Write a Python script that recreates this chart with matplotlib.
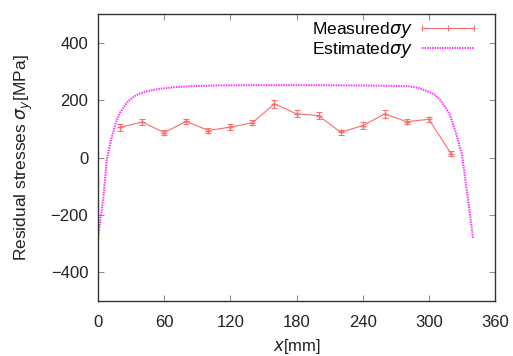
import numpy as np
import matplotlib
matplotlib.use("Agg")
from matplotlib import pyplot as plt
from matplotlib.lines import Line2D
from matplotlib.legend_handler import HandlerBase

# measured residual stress (every 20 mm)
meas_x = [20, 40, 60, 80, 100, 120, 140, 160, 180, 200, 220, 240, 260, 280, 300, 320]
meas_y = [105, 124, 87, 126, 94, 106, 121, 187, 152, 146, 88, 111, 152, 125, 133, 14]
meas_err = [12, 10, 8, 9, 9, 9, 8, 14, 12, 13, 9, 12, 13, 10, 8, 8]

# estimated curve
est_x = [0, 5, 8, 12, 16, 20, 25, 29, 35, 43, 50, 58, 70, 88, 110, 140, 170, 200, 230, 260,
         282, 290, 298, 305, 310, 315, 319, 325, 330, 335, 340]
est_y = [-280, -135, -7, 63, 120, 156, 185, 202, 218, 229, 235, 240, 245, 249, 251, 252, 252,
         252, 251, 250, 248, 243, 232, 220, 202, 175, 150, 80, 10, -130, -280]

red = '#ff6a6a'
mag = '#ff33ff'


# gnuplot style key entry for errorbars: horizontal line, caps at ends, + in middle
class HandlerMeas(HandlerBase):
    def create_artists(self, legend, orig, xd, yd, w, h, fs, trans):
        y = h / 2 - yd
        x0, x1 = -xd, -xd + w
        ln = Line2D([x0, x1], [y, y], color=red, lw=0.8, transform=trans)
        caps = Line2D([x0, x1], [y, y], ls='none', marker='|', ms=5, mew=0.8, color=red, transform=trans)
        plus = Line2D([(x0 + x1) / 2], [y], ls='none', marker='+', ms=4, mew=0.8, color=red, transform=trans)
        return [ln, caps, plus]


plt.rcParams['font.family'] = ['Liberation Sans', 'DejaVu Sans']
plt.rcParams['mathtext.fontset'] = 'dejavusans'

fig = plt.figure(figsize=(5.13, 3.56), dpi=100)
ax = fig.add_axes([0.191, 0.154, 0.774, 0.807])

est_line, = ax.plot(est_x, est_y, color=mag, lw=1.5, ls=(0, (0.7, 0.5)), zorder=2)
meas = ax.errorbar(meas_x, meas_y, yerr=meas_err, color=red, lw=0.8, marker='+', ms=4,
                   capsize=2.5, elinewidth=0.7, capthick=0.7, zorder=3)

ax.set_xlim(0, 360)
ax.set_ylim(-500, 500)
ax.set_xticks(np.arange(0, 361, 60))
ax.set_yticks([-400, -200, 0, 200, 400])
ax.tick_params(direction='in', top=True, right=True, length=4, width=0.6, color='#777777',
               labelsize=12, labelcolor='#222222')
ax.tick_params(axis='x', pad=10)
ax.tick_params(axis='y', pad=7)
for s in ax.spines.values():
    s.set_linewidth(1.0)
    s.set_color('#333333')

ax.set_xlabel('$x$[mm]', fontsize=12, labelpad=5, color='#222222')
ax.set_ylabel('Residual stresses $\\sigma_y$[MPa]', fontsize=12.5, labelpad=11, color='#222222')

ax.legend([meas, est_line], ['Measured$\\sigma y$', 'Estimated$\\sigma y$'],
          handler_map={type(meas): HandlerMeas()},
          loc='upper right', bbox_to_anchor=(0.955, 0.99), frameon=False, markerfirst=False,
          fontsize=12.5, handlelength=3.0, handletextpad=0.5, borderaxespad=0.0,
          labelspacing=0.0, borderpad=0.2)

plt.savefig('out.png', dpi=100)
